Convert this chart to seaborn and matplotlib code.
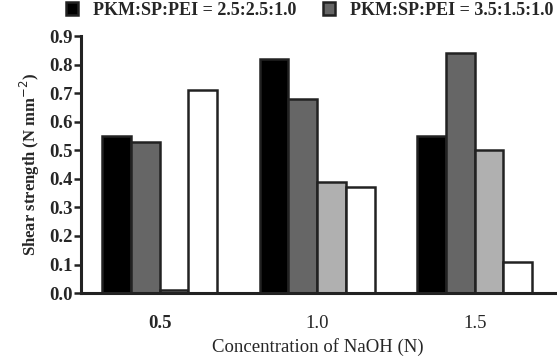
import matplotlib
matplotlib.use("Agg")
import matplotlib.pyplot as plt
import seaborn as sns
import pandas as pd

categories = ["0.5", "1.0", "1.5"]
series_names = ["PKM:SP:PEI = 2.5:2.5:1.0", "PKM:SP:PEI = 3.5:1.5:1.0",
                "Series 3", "Series 4"]
s1 = [0.55, 0.82, 0.55]
s2 = [0.53, 0.68, 0.84]
s3 = [0.01, 0.39, 0.50]
s4 = [0.71, 0.37, 0.11]
colors = ["#000000", "#666666", "#b0b0b0", "#ffffff"]

rows = []
for name, vals in zip(series_names, [s1, s2, s3, s4]):
    for c, v in zip(categories, vals):
        rows.append({"cat": c, "series": name, "val": v})
df = pd.DataFrame(rows)

sns.set_style("white")
plt.rcParams["font.family"] = ["Liberation Serif", "DejaVu Serif"]

fig = plt.figure(figsize=(5.57, 3.57), dpi=100)
ax = fig.add_axes([0.1454, 0.179, 0.851, 0.72])
sns.barplot(data=df, x="cat", y="val", hue="series", palette=colors,
            width=0.73, gap=0, edgecolor="#222222", linewidth=1.8,
            saturation=1, ax=ax, legend=True)

ax.set_xlim(-0.5, 2.51)
ax.set_ylim(0, 0.9)
ax.set_yticks([i / 10 for i in range(10)])
ax.set_yticklabels([f"{i/10:.1f}" for i in range(10)], fontsize=13.5, fontweight="bold")
ax.set_xticks(range(len(categories)))
ax.set_xticklabels(categories, fontsize=13.5)
ax.get_xticklabels()[0].set_fontweight("bold")
ax.tick_params(axis="x", length=0, pad=16)
ax.tick_params(axis="y", length=5, width=1.8, direction="out", left=True, pad=1, color="#222222")
for s in ["top", "right"]:
    ax.spines[s].set_visible(False)
for s in ["left", "bottom"]:
    ax.spines[s].set_linewidth(2.2)
    ax.spines[s].set_color("#222222")
ax.set_xlabel("Concentration of NaOH (N)", fontsize=13.5, labelpad=4)
ax.set_ylabel("Shear strength (N mm$^{-2}$)", fontsize=12, fontweight="bold", labelpad=5)

handles, labels = ax.get_legend_handles_labels()
ax.legend_.remove()
fig.legend(handles[:2], labels[:2], loc="upper left", bbox_to_anchor=(0.112, 1.005),
           ncol=2, frameon=False, prop={"size": 13, "weight": "bold"},
           handlelength=0.67, handleheight=0.67, handletextpad=0.8, columnspacing=1.5,
           borderaxespad=0, borderpad=0.2)

fig.savefig("out.png", dpi=100)
